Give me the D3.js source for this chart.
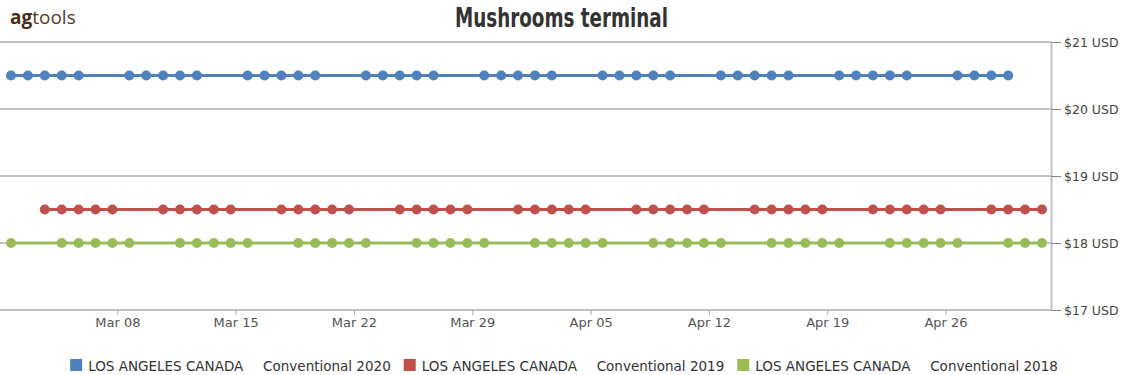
<!DOCTYPE html>
<html>
<head>
<meta charset="utf-8">
<script src="https://cdn.jsdelivr.net/npm/d3@7"></script>
<style>
  body { margin: 0; background: #fff; }
  svg { display: block; }
</style>
</head>
<body>
<div class="canvas"></div>
<script>
// chart text
const title = 'Mushrooms terminal';
const region = 'LOS ANGELES CANADA';
const seriesNames = ['Conventional 2020', 'Conventional 2019', 'Conventional 2018'];
const colors = ['#4f81bd', '#c0504d', '#9bbb59'];

// every year is drawn on the same month-day axis
const dates2020 = [
  '03-02','03-03','03-04','03-05','03-06',
  '03-09','03-10','03-11','03-12','03-13',
  '03-16','03-17','03-18','03-19','03-20',
  '03-23','03-24','03-25','03-26','03-27',
  '03-30','03-31','04-01','04-02','04-03',
  '04-06','04-07','04-08','04-09','04-10',
  '04-13','04-14','04-15','04-16','04-17',
  '04-20','04-21','04-22','04-23','04-24',
  '04-27','04-28','04-29','04-30'
];
const prices2020 = [
  20.5,20.5,20.5,20.5,20.5, 20.5,20.5,20.5,20.5,20.5,
  20.5,20.5,20.5,20.5,20.5, 20.5,20.5,20.5,20.5,20.5,
  20.5,20.5,20.5,20.5,20.5, 20.5,20.5,20.5,20.5,20.5,
  20.5,20.5,20.5,20.5,20.5, 20.5,20.5,20.5,20.5,20.5,
  20.5,20.5,20.5,20.5
];

const dates2019 = [
  '03-04','03-05','03-06','03-07','03-08',
  '03-11','03-12','03-13','03-14','03-15',
  '03-18','03-19','03-20','03-21','03-22',
  '03-25','03-26','03-27','03-28','03-29',
  '04-01','04-02','04-03','04-04','04-05',
  '04-08','04-09','04-10','04-11','04-12',
  '04-15','04-16','04-17','04-18','04-19',
  '04-22','04-23','04-24','04-25','04-26',
  '04-29','04-30','05-01','05-02'
];
const prices2019 = [
  18.5,18.5,18.5,18.5,18.5, 18.5,18.5,18.5,18.5,18.5,
  18.5,18.5,18.5,18.5,18.5, 18.5,18.5,18.5,18.5,18.5,
  18.5,18.5,18.5,18.5,18.5, 18.5,18.5,18.5,18.5,18.5,
  18.5,18.5,18.5,18.5,18.5, 18.5,18.5,18.5,18.5,18.5,
  18.5,18.5,18.5,18.5
];

const dates2018 = [
  '03-02',
  '03-05','03-06','03-07','03-08','03-09',
  '03-12','03-13','03-14','03-15','03-16',
  '03-19','03-20','03-21','03-22','03-23',
  '03-26','03-27','03-28','03-29','03-30',
  '04-02','04-03','04-04','04-05','04-06',
  '04-09','04-10','04-11','04-12','04-13',
  '04-16','04-17','04-18','04-19','04-20',
  '04-23','04-24','04-25','04-26','04-27',
  '04-30','05-01','05-02'
];
const prices2018 = [
  18,
  18,18,18,18,18, 18,18,18,18,18,
  18,18,18,18,18, 18,18,18,18,18,
  18,18,18,18,18, 18,18,18,18,18,
  18,18,18,18,18, 18,18,18,18,18,
  18,18,18
];

// axis ticks
const xTicks = ['03-08','03-15','03-22','03-29','04-05','04-12','04-19','04-26'];
const yTicks = [17, 18, 19, 20, 21];

// dimensions
const dims = { width: 1122, height: 375 };
const plot = { left: 0, right: 1051, top: 42, bottom: 310 };

const parse = md => d3.utcParse('%Y-%m-%d')('2020-' + md);
// tick marks sit at local midnight, 7 hours after the UTC points
const tickShift = 7 * 3600 * 1000;

const series = [
  { dates: dates2020, prices: prices2020 },
  { dates: dates2019, prices: prices2019 },
  { dates: dates2018, prices: prices2018 }
].map((s, i) => ({
  name: seriesNames[i],
  color: colors[i],
  values: s.dates.map((d, j) => ({ date: parse(d), price: s.prices[j] }))
}));

const svg = d3.select('.canvas')
  .append('svg')
  .attr('width', dims.width)
  .attr('height', dims.height);

// scales
const x = d3.scaleUtc()
  .domain([parse('03-02'), parse('05-02')])
  .range([11, 1042]);

const y = d3.scaleLinear()
  .domain([17, 21])
  .range([plot.bottom, plot.top]);

// logo
const logo = svg.append('text')
  .attr('x', 10)
  .attr('y', 24)
  .attr('font-family', '"Open Sans", sans-serif')
  .attr('font-size', 19)
  .attr('fill', '#5a3a22');
logo.append('tspan').attr('font-weight', 'bold').attr('fill', '#4a2c17').text('ag');
logo.append('tspan').text('tools');

// title (squeezed to look like a condensed face)
svg.append('text')
  .attr('x', 455)
  .attr('y', 27)
  .attr('textLength', 213)
  .attr('lengthAdjust', 'spacingAndGlyphs')
  .attr('font-family', '"DejaVu Sans", sans-serif')
  .attr('font-weight', 'bold')
  .attr('font-size', 27)
  .attr('fill', '#333')
  .text(title);

// horizontal grid
svg.append('g')
  .selectAll('line')
  .data(yTicks)
  .enter()
  .append('line')
    .attr('x1', plot.left)
    .attr('x2', plot.right)
    .attr('y1', d => y(d))
    .attr('y2', d => y(d))
    .attr('stroke', '#858585')
    .attr('stroke-width', 1.2);

// bottom axis
const xAxis = d3.axisBottom(x)
  .tickValues(xTicks.map(d => new Date(+parse(d) + tickShift)))
  .tickSize(5)
  .tickFormat(d3.utcFormat('%b %d'));

const xg = svg.append('g')
  .attr('transform', `translate(0, ${plot.bottom})`)
  .call(xAxis);
xg.select('.domain').remove();
xg.selectAll('.tick line').attr('stroke', '#aaa');
xg.selectAll('.tick text')
  .attr('y', 8)
  .attr('font-family', '"DejaVu Sans", sans-serif')
  .attr('font-size', 13)
  .attr('fill', '#555');

// right axis
const yAxis = d3.axisRight(y)
  .tickValues(yTicks)
  .tickSize(10)
  .tickPadding(3)
  .tickFormat(d => `$${d} USD`);

const yg = svg.append('g')
  .attr('transform', `translate(${plot.right}, 0)`)
  .call(yAxis);
yg.select('.domain')
  .attr('d', `M0.5,${plot.top}V${plot.bottom}`)
  .attr('stroke', '#c4c4c4')
  .attr('stroke-width', 2);
yg.selectAll('.tick line').attr('stroke', '#858585');
yg.selectAll('.tick text')
  .attr('font-family', '"DejaVu Sans", sans-serif')
  .attr('font-size', 12.5)
  .attr('fill', '#444');

// lines + points
const line = d3.line()
  .x(d => x(d.date))
  .y(d => y(d.price));

const groups = svg.append('g')
  .selectAll('g')
  .data(series)
  .enter()
  .append('g');

groups.append('path')
  .attr('d', d => line(d.values))
  .attr('fill', 'none')
  .attr('stroke', d => d.color)
  .attr('stroke-width', 3);

groups.selectAll('circle')
  .data(d => d.values.map(v => ({ ...v, color: d.color })))
  .enter()
  .append('circle')
    .attr('cx', d => x(d.date))
    .attr('cy', d => y(d.price))
    .attr('r', 5)
    .attr('fill', d => d.color);

// legend
const legend = svg.append('g');
const items = legend.selectAll('g')
  .data(series)
  .enter()
  .append('g');

items.append('rect')
  .attr('width', 12)
  .attr('height', 12)
  .attr('y', 359)
  .attr('fill', d => d.color);

const labels = items.append('text')
  .attr('x', 18)
  .attr('y', 370.5)
  .attr('font-family', '"DejaVu Sans", sans-serif')
  .attr('font-size', 13.5)
  .attr('fill', '#333');
labels.append('tspan').text(region);
labels.append('tspan').attr('dx', 20).text(d => d.name);

// lay legend items out side by side, centred
let offset = 0;
items.each(function() {
  const w = this.getBBox().width;
  d3.select(this).attr('transform', `translate(${offset}, 0)`);
  offset += w + 13;
});
legend.attr('transform', `translate(${564 - (offset - 13) / 2}, 0)`);
</script>
</body>
</html>
